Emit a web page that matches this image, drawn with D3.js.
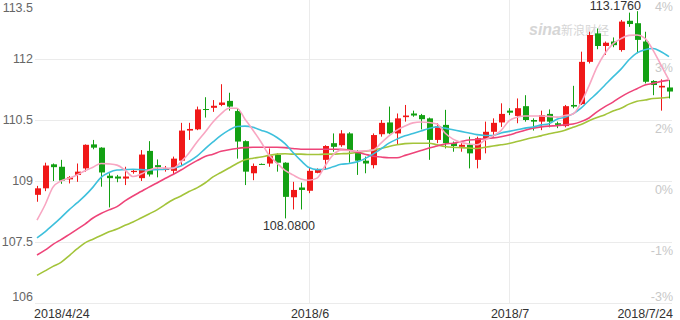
<!DOCTYPE html>
<html>
<head>
<meta charset="utf-8">
<script src="https://cdn.jsdelivr.net/npm/d3@7/dist/d3.min.js"></script>
<style>
  body { margin: 0; background: #fff; }
  svg { display: block; font-family: Arial, "Liberation Sans", sans-serif; }
</style>
</head>
<body>
<svg id="chart" width="680" height="320"></svg>
<script>
// trading days shown on the chart
const dates = [
  "2018-04-24","2018-04-25","2018-04-26","2018-04-27","2018-04-28","2018-04-30",
  "2018-05-01","2018-05-02","2018-05-03","2018-05-04","2018-05-05","2018-05-07","2018-05-08","2018-05-09",
  "2018-05-10","2018-05-11","2018-05-12","2018-05-14","2018-05-15","2018-05-16","2018-05-17","2018-05-18",
  "2018-05-19","2018-05-21","2018-05-22","2018-05-23","2018-05-24","2018-05-25","2018-05-26","2018-05-27",
  "2018-05-28","2018-05-29","2018-05-30","2018-05-31",
  "2018-06-01","2018-06-02","2018-06-04","2018-06-05","2018-06-06","2018-06-07","2018-06-08","2018-06-09",
  "2018-06-11","2018-06-12","2018-06-13","2018-06-14","2018-06-15","2018-06-16","2018-06-18","2018-06-19",
  "2018-06-20","2018-06-21","2018-06-22","2018-06-23","2018-06-25","2018-06-26","2018-06-27","2018-06-28",
  "2018-06-29",
  "2018-07-01","2018-07-02","2018-07-03","2018-07-04","2018-07-05","2018-07-06","2018-07-07","2018-07-09",
  "2018-07-10","2018-07-11","2018-07-12","2018-07-13","2018-07-14","2018-07-16","2018-07-17","2018-07-18",
  "2018-07-19","2018-07-20","2018-07-21","2018-07-23","2018-07-24"
];

const open = [
  108.66,108.82,109.41,109.35,109.04,109.15,109.31,109.90,109.82,109.13,
  109.11,109.06,109.22,109.07,109.74,109.39,109.27,109.25,109.50,110.24,
  110.27,110.77,110.80,110.87,110.97,110.72,109.98,109.19,109.42,109.43,
  109.64,109.45,108.60,108.84,108.76,109.20,109.52,109.93,109.88,110.17,
  109.72,109.50,109.39,110.15,110.44,110.17,110.57,110.66,110.62,110.54,
  110.01,110.38,109.93,109.84,109.89,109.52,110.05,110.21,110.44,110.73,
  110.60,110.84,110.50,110.46,110.65,110.42,110.35,110.87,110.89,111.93,
  112.63,112.32,112.43,112.22,112.94,112.88,112.43,111.46,111.30,111.30
];
const high = [
  108.88,109.45,109.43,109.52,109.12,109.43,109.90,110.01,109.83,109.19,
  109.15,109.35,109.28,109.76,109.98,109.53,109.37,109.60,110.43,110.43,
  110.83,111.06,110.99,111.38,111.17,110.78,110.00,109.43,109.43,109.80,
  109.68,109.46,108.98,108.96,109.34,109.31,109.88,110.17,110.25,110.20,
  109.76,109.60,110.17,110.50,110.83,110.66,110.87,110.73,110.65,110.56,
  110.42,110.75,109.97,109.97,110.09,110.09,110.46,110.54,110.91,110.79,
  111.03,111.11,110.54,110.73,110.76,110.46,110.87,111.34,112.18,112.67,
  112.75,112.43,112.53,112.96,113.14,113.176,112.67,111.48,111.50,111.48
];
const low = [
  108.49,108.75,109.00,108.93,108.94,108.98,109.23,109.78,108.86,108.35,
  108.97,108.90,109.18,109.00,109.11,109.09,109.23,109.15,109.39,110.01,
  110.25,110.56,110.70,110.84,110.73,109.55,108.90,109.02,109.40,109.35,
  109.23,108.08,108.30,108.30,108.70,109.19,109.27,109.72,109.84,109.45,
  109.15,109.19,109.31,110.09,110.15,109.89,110.46,110.58,110.27,109.52,
  109.93,109.80,109.72,109.72,109.31,109.31,109.68,110.09,110.33,110.62,
  110.42,110.46,110.24,110.25,110.32,110.30,110.32,110.79,110.87,111.89,
  112.24,112.10,112.29,112.18,112.79,112.14,111.40,111.11,110.73,111.03
];
const close = [
  108.82,109.38,109.34,109.01,109.09,109.23,109.89,109.82,109.21,109.07,
  109.06,109.11,109.25,109.65,109.16,109.34,109.31,109.55,110.24,110.28,
  110.76,110.75,110.85,110.93,110.83,109.97,109.23,109.37,109.41,109.61,
  109.45,108.61,108.78,108.78,109.25,109.29,109.86,109.84,110.17,109.75,
  109.50,109.43,110.13,110.43,110.17,110.54,110.61,110.61,110.52,110.01,
  110.35,109.93,109.86,109.89,109.68,110.05,110.21,110.43,110.65,110.68,
  110.79,110.50,110.46,110.62,110.46,110.38,110.84,110.83,111.93,112.59,
  112.32,112.40,112.34,112.92,112.86,112.47,111.44,111.36,111.34,111.20
];

// moving averages as drawn
const ma5 = [
  108.04,108.41,108.85,109.00,109.07,109.15,109.25,109.34,109.43,109.42,
  109.39,109.27,109.11,109.17,109.27,109.32,109.32,109.31,109.47,109.69,
  109.96,110.20,110.45,110.65,110.79,110.79,110.52,110.25,109.96,109.64,
  109.44,109.26,109.15,109.05,109.02,109.07,109.37,109.64,109.76,109.75,
  109.73,109.74,109.76,109.93,110.11,110.25,110.35,110.43,110.45,110.44,
  110.40,110.18,110.03,109.95,109.91,109.89,110.01,110.11,110.24,110.48,
  110.57,110.60,110.60,110.60,110.59,110.57,110.61,110.65,110.92,111.34,
  111.80,112.14,112.37,112.50,112.58,112.59,112.51,112.22,111.85,111.48
];
const ma10 = [
  107.60,107.75,107.92,108.10,108.29,108.46,108.64,108.85,109.09,109.21,
  109.27,109.28,109.29,109.28,109.27,109.28,109.29,109.32,109.37,109.48,
  109.61,109.79,109.96,110.12,110.25,110.34,110.35,110.32,110.25,110.18,
  110.07,109.92,109.70,109.50,109.33,109.28,109.29,109.35,109.41,109.43,
  109.47,109.55,109.66,109.79,109.93,110.03,110.11,110.17,110.23,110.29,
  110.33,110.30,110.26,110.22,110.18,110.14,110.12,110.12,110.18,110.22,
  110.26,110.30,110.33,110.38,110.41,110.52,110.57,110.65,110.79,110.98,
  111.16,111.36,111.56,111.75,111.98,112.15,112.23,112.26,112.18,112.06
];
const ma20 = [
  107.18,107.30,107.44,107.56,107.68,107.81,107.94,108.09,108.20,108.29,
  108.37,108.51,108.63,108.74,108.85,108.95,109.06,109.16,109.27,109.39,
  109.50,109.60,109.66,109.73,109.77,109.80,109.82,109.83,109.83,109.83,
  109.83,109.82,109.80,109.78,109.78,109.78,109.78,109.78,109.78,109.76,
  109.71,109.66,109.61,109.59,109.57,109.57,109.63,109.69,109.75,109.81,
  109.86,109.91,109.93,109.97,110.01,110.02,110.04,110.06,110.09,110.13,
  110.19,110.25,110.30,110.33,110.35,110.36,110.38,110.40,110.46,110.55,
  110.70,110.83,110.94,111.07,111.18,111.27,111.36,111.40,111.45,111.48
];
const ma30 = [
  106.68,106.79,106.90,107.00,107.16,107.33,107.48,107.57,107.66,107.75,
  107.82,107.91,107.99,108.09,108.19,108.29,108.42,108.54,108.63,108.74,
  108.83,108.95,109.10,109.21,109.32,109.43,109.52,109.56,109.59,109.63,
  109.66,109.67,109.66,109.66,109.65,109.65,109.66,109.66,109.67,109.68,
  109.70,109.73,109.76,109.80,109.85,109.89,109.92,109.93,109.93,109.93,
  109.89,109.85,109.83,109.82,109.81,109.80,109.83,109.86,109.89,109.92,
  109.97,110.02,110.07,110.11,110.16,110.20,110.25,110.32,110.39,110.48,
  110.56,110.63,110.72,110.79,110.89,110.96,110.99,111.03,111.04,111.06
];

const priceTicks = [106, 107.5, 109, 110.5, 112, 113.5];
const pctLabels = ["-3%", "-1%", "0%", "2%", "3%", "4%"];
const xTicks = ["2018-04-24", "2018-06-01", "2018-07-01", "2018-07-24"];
const xTickLabels = ["2018/4/24", "2018/6", "2018/7", "2018/7/24"];
const monthLines = ["2018-06-01", "2018-07-01"];

const svg = d3.select("#chart");

const x = d3.scalePoint().domain(dates).range([37, 669]);
const y = d3.scaleLinear().domain([106, 113.5]).range([303, -2]);

// grid
svg.append("g").selectAll("line").data(priceTicks).join("line")
  .attr("x1", 35).attr("x2", 672)
  .attr("y1", d => Math.round(y(d)) + 0.5).attr("y2", d => Math.round(y(d)) + 0.5)
  .attr("stroke", "#ebebeb");
svg.append("g").selectAll("line").data(monthLines).join("line")
  .attr("x1", d => Math.round(x(d)) + 0.5).attr("x2", d => Math.round(x(d)) + 0.5)
  .attr("y1", 0).attr("y2", 303)
  .attr("stroke", "#ebebeb");

// watermark
const wm = svg.append("g").attr("fill", "#d6d6d6");
wm.append("text").attr("x", 529).attr("y", 35)
  .style("font-size", "16px").style("font-style", "italic").style("font-weight", "bold")
  .text("sina");
wm.append("text").attr("x", 561).attr("y", 35)
  .style("font-size", "12px").style("font-family", "'Noto Sans CJK SC', sans-serif")
  .text("新浪财经");

// left axis
svg.append("g").selectAll("text").data(priceTicks).join("text")
  .attr("x", 33)
  .attr("y", d => Math.max(8, Math.min(297, y(d))))
  .attr("text-anchor", "end").attr("dominant-baseline", "central")
  .attr("fill", "#666").style("font-size", "12.5px")
  .text(d => d);

// right axis
svg.append("g").selectAll("text").data(priceTicks).join("text")
  .attr("x", 673)
  .attr("y", d => Math.max(7, Math.min(297, y(d) + 8.5)))
  .attr("text-anchor", "end").attr("dominant-baseline", "central")
  .attr("fill", "#c8c8c8").style("font-size", "12.5px")
  .text((d, i) => pctLabels[i]);

// bottom labels
svg.append("g").selectAll("text").data(xTicks).join("text")
  .attr("x", (d, i) => i === 0 ? 34 : i === xTicks.length - 1 ? 673 : x(d) + 1)
  .attr("y", 314)
  .attr("text-anchor", (d, i) => i === 0 ? "start" : i === xTicks.length - 1 ? "end" : "middle")
  .attr("dominant-baseline", "central")
  .attr("fill", "#333").style("font-size", "12.5px")
  .text((d, i) => xTickLabels[i]);

// candles
const bars = dates.map((d, i) => ({ d, o: open[i], h: high[i], l: low[i], c: close[i] }));
const up = "#f01818", down = "#13a013";
const cg = svg.append("g").selectAll("g").data(bars).join("g");
cg.append("line")
  .attr("x1", b => Math.round(x(b.d)) + 0.5).attr("x2", b => Math.round(x(b.d)) + 0.5)
  .attr("y1", b => y(b.h)).attr("y2", b => y(b.l))
  .attr("stroke", b => b.c >= b.o ? up : down);
cg.append("rect")
  .attr("x", b => Math.round(x(b.d)) - 2)
  .attr("width", 6)
  .attr("y", b => y(Math.max(b.o, b.c)))
  .attr("height", b => Math.max(1, Math.abs(y(b.o) - y(b.c))))
  .attr("fill", b => b.c >= b.o ? up : down);

// moving average lines
const series = [
  { v: ma30, color: "#a3c43a" },
  { v: ma20, color: "#ee4479" },
  { v: ma10, color: "#3ec0dc" },
  { v: ma5, color: "#f8a6c2" }
];
const line = d3.line().x((d, i) => x(dates[i])).y(d => y(d)).curve(d3.curveMonotoneX);
svg.append("g").selectAll("path").data(series).join("path")
  .attr("d", s => line(s.v))
  .attr("fill", "none").attr("stroke", s => s.color).attr("stroke-width", 1.6);

// extreme labels
const hiI = d3.maxIndex(high), loI = d3.minIndex(low);
svg.append("text")
  .attr("x", x(dates[hiI]) + 4).attr("y", 10)
  .attr("text-anchor", "end")
  .attr("fill", "#333").style("font-size", "12.5px")
  .text(high[hiI].toFixed(4));
svg.append("text")
  .attr("x", x(dates[loI]) + 4).attr("y", y(low[loI]) + 8)
  .attr("text-anchor", "middle").attr("dominant-baseline", "central")
  .attr("fill", "#333").style("font-size", "12.5px")
  .text(low[loI].toFixed(4));
</script>
</body>
</html>
